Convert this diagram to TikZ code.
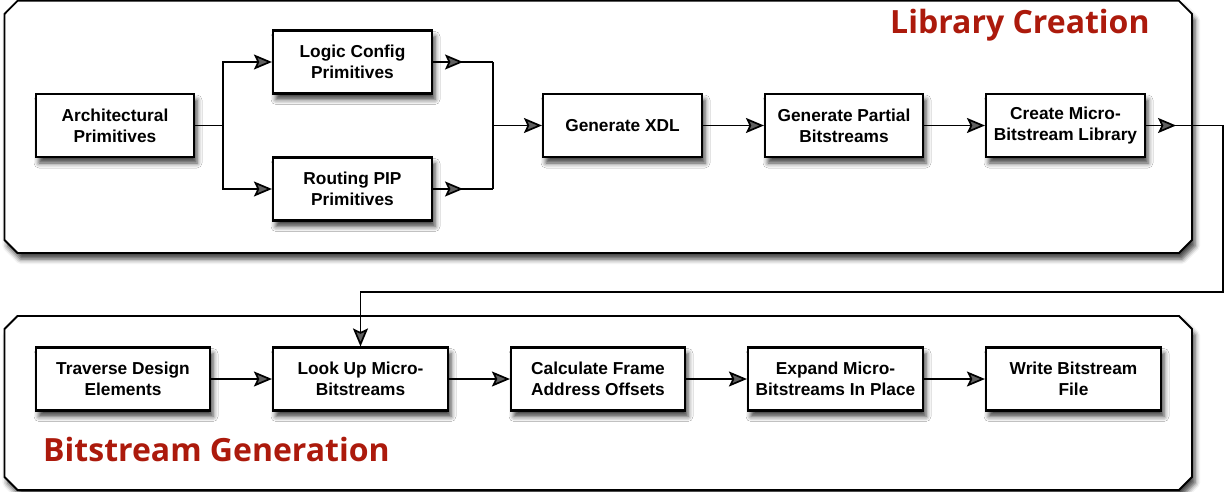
\documentclass[tikz,border=0pt]{standalone}
\usepackage{fontspec}
\newfontfamily\boxfont{Liberation Sans}
\newfontfamily\titlefont{Open Sans}
\usetikzlibrary{arrows.meta,shadows.blur,decorations.markings}
\definecolor{titlered}{RGB}{172,26,12}
\tikzset{
  softshadow/.style={blur shadow={shadow xshift=3pt, shadow yshift=-6pt,
      shadow blur radius=5pt, shadow opacity=75}},
  proc/.style={draw, line width=2.1pt, fill=white, minimum height=63pt,
      align=center, inner sep=2pt, softshadow,
      font=\boxfont\bfseries\fontsize{17.3}{21}\selectfont},
  panel/.style={draw, line width=1.8pt, fill=white, softshadow},
  conn/.style={line width=1.7pt},
  >={Stealth[length=18pt,width=15pt,inset=3.5pt]},
  midarrow/.style={postaction=decorate, decoration={markings,
      mark=at position #1 with {\arrow{Stealth[length=18pt,width=15pt,inset=3.5pt]}}}},
  paneltitle/.style={text=titlered, inner sep=0pt,
      font=\titlefont\bfseries\fontsize{32}{36}\selectfont},
}
\begin{document}
\begin{tikzpicture}[x=1pt, y=-1pt]
\useasboundingbox (0,0) rectangle (1224,492);

% chamfered panels
\draw[panel] (4.5,14) -- (17.5,0.8) -- (1179,0.8) -- (1192,14) -- (1192,240)
  -- (1179,253) -- (17.5,253) -- (4.5,240) -- cycle;
\draw[panel] (4.5,329) -- (17.5,316) -- (1179,316) -- (1192,329) -- (1192,477)
  -- (1179,490) -- (17.5,490) -- (4.5,477) -- cycle;

\node[paneltitle, anchor=base west] (libtitle) at (890,34) {Library Creation};
\node[paneltitle, anchor=base west] (gentitle) at (43,461) {Bitstream Generation};

% library creation steps
\node[proc, minimum width=158pt] (arch)    at (115,125.5)  {Architectural\\Primitives};
\node[proc, minimum width=159pt] (logic)   at (352.5,62)   {Logic Config\\Primitives};
\node[proc, minimum width=159pt] (routing) at (352.5,189)  {Routing PIP\\Primitives};
\node[proc, minimum width=159pt] (xdl)     at (622.5,125.5){Generate XDL};
\node[proc, minimum width=158pt] (partial) at (844,125.5)  {Generate Partial\\Bitstreams};
\node[proc, minimum width=159pt] (create)  at (1065.5,125.5){Create Micro-\\Bitstream Library};

% bitstream generation steps
\node[proc, minimum width=174pt] (trav)   at (123,379)    {Traverse Design\\Elements};
\node[proc, minimum width=175pt] (look)   at (360.5,379)  {Look Up Micro-\\Bitstreams};
\node[proc, minimum width=174pt] (calc)   at (598,379)    {Calculate Frame\\Address Offsets};
\node[proc, minimum width=175pt] (expand) at (835.5,379)  {Expand Micro-\\Bitstreams In Place};
\node[proc, minimum width=175pt] (write)  at (1073.5,379) {Write Bitstream\\File};

% routing points
\coordinate (split) at (223,125.5);
\coordinate (merge) at (493,125.5);
\coordinate (loopA) at (1223,125.5);
\coordinate (loopB) at (1223,292);
\coordinate (loopC) at (360.5,292);

% connectors
\draw[conn] (arch.east) -- (split);
\draw[conn,->] (split) |- (logic.west);
\draw[conn,->] (split) |- (routing.west);
\draw[conn, midarrow=0.5] (logic.east) -- (logic.east -| merge);
\draw[conn, midarrow=0.5] (routing.east) -- (routing.east -| merge);
\draw[conn] (logic.east -| merge) -- (routing.east -| merge);
\draw[conn,->] (merge) -- (xdl.west);
\draw[conn,->] (xdl) -- (partial);
\draw[conn,->] (partial) -- (create);
\draw[conn, midarrow=30pt, ->] (create.east) -- (loopA) -- (loopB) -- (loopC) -- (look.north);

\draw[conn,->] (trav) -- (look);
\draw[conn,->] (look) -- (calc);
\draw[conn,->] (calc) -- (expand);
\draw[conn,->] (expand) -- (write);
\end{tikzpicture}
\end{document}
